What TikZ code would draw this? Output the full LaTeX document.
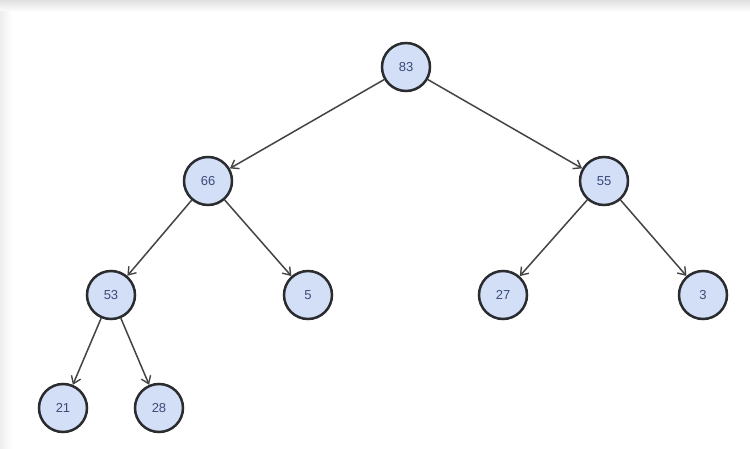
\documentclass[tikz,border=0pt]{standalone}
\usepackage{fontspec}
\setmainfont{Liberation Sans}
\usetikzlibrary{arrows.meta}
\definecolor{nodefill}{HTML}{D3DFF7}
\definecolor{nodeline}{HTML}{2A2C30}
\definecolor{nodetext}{HTML}{3B4A78}
\definecolor{edgecol}{HTML}{444444}
\begin{document}
\begin{tikzpicture}[x=1pt,y=-1pt,
  heapnode/.style={circle,draw=nodeline,line width=2.5pt,fill=nodefill,minimum size=48pt,inner sep=0pt,text=nodetext,font=\fontsize{13}{14}\selectfont},
  edge/.style={draw=edgecol,line width=1.5pt,-{Straight Barb[length=7pt,width=10pt,line width=1.4pt]}}]
\useasboundingbox (0,0) rectangle (750,449);
\fill[white] (0,0) rectangle (750,449);
\shade[top color=black!12,bottom color=white] (0,0) rectangle (750,12);
\shade[left color=black!7,right color=white] (0,12) rectangle (12,449);
\node[heapnode] (n83) at (406,67) {83};
\node[heapnode] (n66) at (208,181) {66};
\node[heapnode] (n55) at (604,181) {55};
\node[heapnode] (n53) at (111,295) {53};
\node[heapnode] (n5) at (308,295) {5};
\node[heapnode] (n27) at (503,295) {27};
\node[heapnode] (n3) at (703,295) {3};
\node[heapnode] (n21) at (63,408) {21};
\node[heapnode] (n28) at (159,408) {28};
\draw[edge] (n83) -- (n66);
\draw[edge] (n83) -- (n55);
\draw[edge] (n66) -- (n53);
\draw[edge] (n66) -- (n5);
\draw[edge] (n55) -- (n27);
\draw[edge] (n55) -- (n3);
\draw[edge] (n53) -- (n21);
\draw[edge] (n53) -- (n28);
\end{tikzpicture}
\end{document}
